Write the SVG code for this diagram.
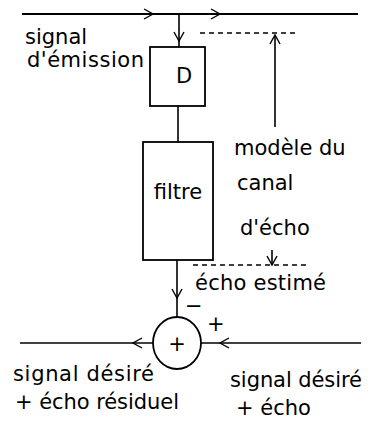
<svg xmlns="http://www.w3.org/2000/svg" width="374" height="432" viewBox="0 0 374 432">
<style>
.ln{stroke:#000;stroke-width:1.6;fill:none}
.ds{stroke:#000;stroke-width:1.4;fill:none;stroke-dasharray:5 4}
.ch{stroke:#000;stroke-width:1.4;fill:none}
.bx{stroke:#000;stroke-width:1.8;fill:#fff}
text{font-family:"DejaVu Sans","Liberation Sans",sans-serif;font-size:21px;fill:#000}
.c{text-anchor:middle}
</style>
<rect width="374" height="432" fill="#fff"/>
<g id="connectors">
<line class="ln" x1="22" y1="14" x2="358" y2="14" style="stroke-width:2"/>
<path class="ch" d="M144,9 L153,14 L144,19"/>
<path class="ch" d="M211,9 L220,14 L211,19"/>
<line class="ln" x1="179" y1="14" x2="179" y2="47"/>
<path class="ch" d="M174,32 L179,41 L184,32"/>
<line class="ln" x1="178" y1="106" x2="178" y2="142"/>
<line class="ds" x1="200" y1="33" x2="297" y2="33"/>
<line class="ln" x1="275" y1="127" x2="275" y2="35"/>
<path class="ch" d="M270,44 L275,35 L280,44"/>
<line class="ln" x1="177" y1="260" x2="177" y2="317"/>
<path class="ch" d="M172,289 L177,298 L182,289"/>
<line class="ds" x1="193" y1="265" x2="308" y2="265"/>
<line class="ln" x1="272" y1="250" x2="272" y2="265"/>
<path class="ch" d="M267,256 L272,265 L277,256"/>
<line class="ln" x1="20" y1="343" x2="153" y2="343"/>
<path class="ch" d="M142,338 L133,343 L142,348"/>
<line class="ln" x1="201" y1="343" x2="361" y2="343"/>
<path class="ch" d="M229,338 L220,343 L229,348"/>
</g>
<g id="node-D">
<rect class="bx" x="150" y="47" width="55" height="59"/>
<text class="c" x="184" y="83">D</text>
</g>
<g id="node-filtre">
<rect class="bx" x="143" y="142" width="70" height="118"/>
<text class="c" x="178" y="199">filtre</text>
</g>
<g id="node-sum">
<ellipse class="bx" cx="177" cy="343" rx="24" ry="26"/>
<text class="c" x="177" y="351">+</text>
</g>
<g id="labels">
<text x="25" y="44">signal</text>
<text x="27" y="67" textLength="117">d'émission</text>
<text x="234" y="155">modèle du</text>
<text x="237" y="190">canal</text>
<text x="240" y="235">d'écho</text>
<text x="195" y="290" textLength="131">écho estimé</text>
<text x="185" y="313">−</text>
<text x="207" y="331">+</text>
<text x="13" y="381" textLength="141">signal désiré</text>
<text x="15" y="409" textLength="164">+ écho résiduel</text>
<text x="230" y="387" textLength="132">signal désiré</text>
<text x="236" y="415">+ écho</text>
</g>
</svg>
